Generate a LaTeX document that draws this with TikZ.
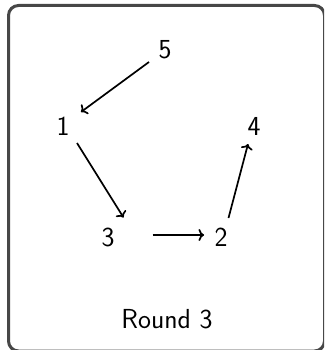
\documentclass[tikz,border=0pt]{standalone}
\usetikzlibrary{arrows.meta}
\begin{document}
\begin{tikzpicture}[x=1pt,y=-1pt,
  lbl/.style={inner sep=0pt, font=\sffamily\fontsize{27.5}{32}\selectfont},
  edge/.style={line width=1.7pt, -{To[length=5.5pt,width=12pt]}},
  frame/.style={line width=3pt, draw=black!72, rounded corners=10pt}]
\useasboundingbox (0,0) rectangle (324,350);
\clip (0,0) rectangle (324,350);
\draw[frame] (8.5,5.5) rectangle (324.5,351);
\node[lbl] (n5) at (165,50) {5};
\node[lbl] (n1) at (63,126) {1};
\node[lbl] (n4) at (254,126) {4};
\node[lbl] (n3) at (108,237) {3};
\node[lbl] (n2) at (221,237) {2};
\node[lbl] (t) at (167,319) {Round 3};
\draw[edge] ([shift={(-16,12)}]n5.center) -- ([shift={(18,-14)}]n1.center);
\draw[edge] ([shift={(14,17)}]n1.center) -- ([shift={(15.5,-19.5)}]n3.center);
\draw[edge] ([shift={(44.5,-2)}]n3.center) -- ([shift={(-17,-2)}]n2.center);
\draw[edge] ([shift={(7.5,-19)}]n2.center) -- ([shift={(-6,18)}]n4.center);
\end{tikzpicture}
\end{document}
